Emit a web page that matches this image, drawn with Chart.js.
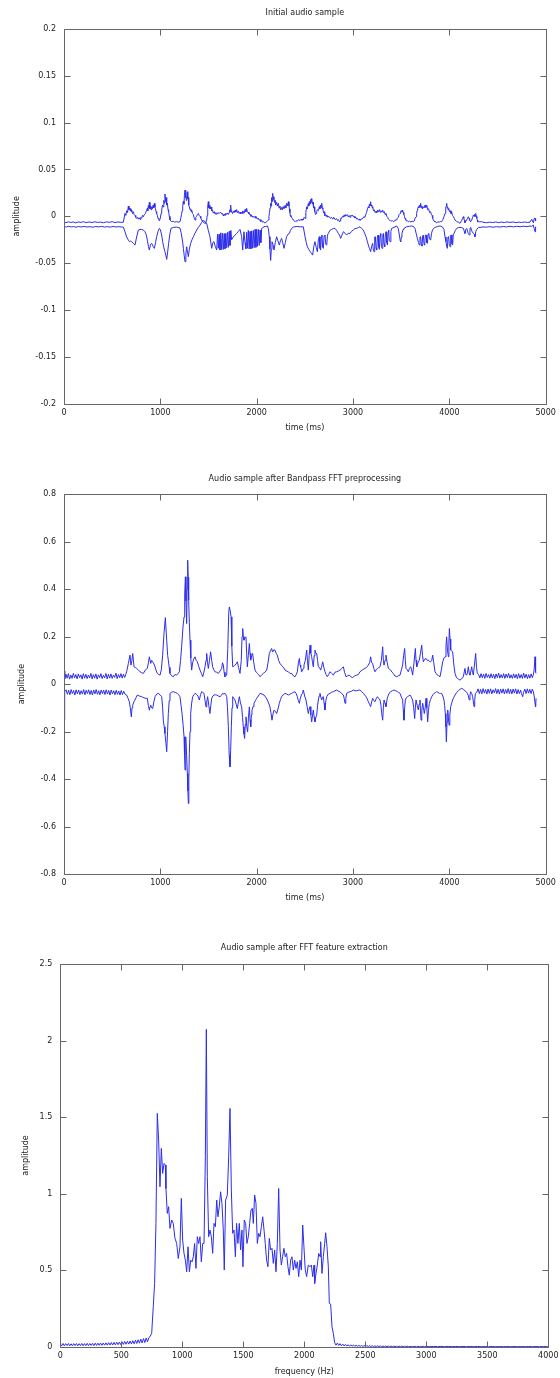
<!DOCTYPE html>
<html>
<head>
<meta charset="utf-8">
<script src="https://cdn.jsdelivr.net/npm/chart.js@4.4.1/dist/chart.umd.min.js"></script>
<style>
html,body{margin:0;padding:0;background:#fff;}
#wrap{position:relative;width:560px;height:1378px;}
canvas{position:absolute;left:0;}
</style>
</head>
<body>
<div id="wrap">
<canvas id="c1" width="560" height="460" style="top:0px"></canvas>
<canvas id="c2" width="560" height="470" style="top:460px"></canvas>
<canvas id="c3" width="560" height="448" style="top:930px"></canvas>
</div>
<script>
// ---------- DATA ----------
const titles = ["Initial audio sample", "Audio sample after Bandpass FFT preprocessing", "Audio sample after FFT feature extraction"];
const xTitles = ["time (ms)", "time (ms)", "frequency (Hz)"];
const yTitle = "amplitude";

const ticks1X = [0, 1000, 2000, 3000, 4000, 5000];
const ticks1Y = [-0.2, -0.15, -0.1, -0.05, 0, 0.05, 0.1, 0.15, 0.2];
const ticks2X = [0, 1000, 2000, 3000, 4000, 5000];
const ticks2Y = [-0.8, -0.6, -0.4, -0.2, 0, 0.2, 0.4, 0.6, 0.8];
const ticks3X = [0, 500, 1000, 1500, 2000, 2500, 3000, 3500, 4000];
const ticks3Y = [0, 0.5, 1, 1.5, 2, 2.5];

// chart 1: initial sample, upper and lower traces [time ms, amplitude]
const s1Upper = [[0,-0.006],[20,-0.0068],[45,-0.0058],[70,-0.0066],[95,-0.0059],[120,-0.0069],[150,-0.006],[175,-0.0065],[200,-0.0057],[230,-0.0067],[260,-0.006],[290,-0.0066],[320,-0.0058],[350,-0.0065],[380,-0.0061],[410,-0.0068],[440,-0.0059],[470,-0.0064],[500,-0.0057],[530,-0.0066],[560,-0.006],[590,-0.0064],[616,-0.0062],
[633,0.0031],[642,0.001],[650,0.006],[659,0.004],[668,0.011],[674,0.007],[680,0.009],[686,0.006],[692,0.0085],[697,0.005],[702,0.007],[711,0.003],[720,0.0049],[728,0.002],[737,0.001],[745,-0.001],[754,-0.0022],[763,-0.001],[772,-0.003],[780,-0.0015],[789,-0.0032],[797,-0.001],[806,-0.002],[815,0.001],[824,-0.0004],[834,0.002],[845,0.003],[855,0.006],[865,0.0085],[870,0.006],[875,0.0115],[881,0.009],[886,0.0149],[892,0.008],[898,0.011],[904,0.007],[910,0.0102],[917,0.008],[925,0.012],[931,0.009],[938,0.0138],[944,0.01],[950,0.008],[956,0.005],[962,0.0031],[969,0.001],[976,-0.002],[983,-0.003],[990,-0.0047],[1000,-0.002],[1007,0.003],[1014,0.0067],[1022,0.012],[1030,0.01],[1036,0.017],[1042,0.014],[1048,0.0238],[1054,0.016],[1060,0.02],[1066,0.012],[1073,0.0138],[1080,0.007],[1086,0.005],[1093,0.0],[1100,-0.0039],[1118,-0.0057],[1135,-0.0052],[1150,-0.0062],[1165,-0.0056],[1185,-0.0062],[1204,-0.0057],[1212,-0.002],[1220,0.002],[1226,0.006],[1232,0.0102],[1238,0.016],[1245,0.013],[1250,0.022],[1256,0.028],[1261,0.02],[1265,0.024],[1270,0.017],[1275,0.022],[1280,0.0262],[1285,0.019],[1290,0.02],[1295,0.012],[1301,0.0102],[1308,0.007],[1315,0.008],[1320,0.005],[1325,0.0067],[1334,0.003],[1343,0.002],[1352,-0.002],[1360,-0.0039],[1368,-0.001],[1377,0.0],[1385,0.002],[1394,0.0031],[1403,0.001],[1412,0.0],[1420,-0.002],[1429,-0.0039],[1437,-0.005],[1446,-0.006],[1455,-0.007],[1465,-0.0075],[1473,-0.006],[1481,-0.004],[1486,0.001],[1490,0.006],[1494,0.011],[1498,0.0156],[1503,0.009],[1507,0.011],[1511,0.008],[1515,0.012],[1520,0.008],[1526,0.01],[1533,0.006],[1540,0.007],[1550,0.0035],[1559,0.005],[1568,0.0025],[1576,0.004],[1585,0.0021],[1597,0.004],[1610,0.0029],[1624,0.0045],[1637,0.0025],[1645,0.003],[1654,0.0004],[1662,0.0025],[1671,0.001],[1680,0.0035],[1689,0.002],[1697,0.0035],[1706,0.002],[1713,0.004],[1720,0.007],[1725,0.005],[1730,0.012],[1735,0.006],[1740,0.0049],[1749,0.003],[1758,0.0055],[1766,0.004],[1775,0.0065],[1783,0.0045],[1792,0.0072],[1801,0.004],[1810,0.0055],[1818,0.003],[1827,0.0045],[1835,0.0028],[1844,0.0045],[1850,0.003],[1855,0.0058],[1861,0.0035],[1868,0.0055],[1874,0.004],[1880,0.0075],[1888,0.005],[1896,0.0085],[1903,0.005],[1910,0.0045],[1920,0.0025],[1931,0.002],[1940,0.0],[1950,0.001],[1958,-0.001],[1965,0.0],[1974,-0.0012],[1983,0.0],[1992,-0.002],[2000,-0.0012],[2008,-0.003],[2017,-0.002],[2026,-0.004],[2035,-0.0035],[2043,-0.0055],[2052,-0.0045],[2061,-0.0062],[2070,-0.0055],[2078,-0.0068],[2086,-0.0063],[2093,-0.0068],[2100,-0.0058],[2110,-0.005],[2121,-0.0039],[2127,0.0],[2133,0.004],[2139,0.009],[2145,0.0138],[2150,0.011],[2155,0.02],[2160,0.016],[2166,0.0245],[2172,0.018],[2178,0.021],[2184,0.015],[2190,0.0174],[2198,0.012],[2207,0.015],[2215,0.011],[2225,0.0138],[2232,0.009],[2240,0.011],[2250,0.007],[2259,0.0095],[2266,0.007],[2275,0.0105],[2284,0.008],[2294,0.0115],[2302,0.009],[2311,0.014],[2320,0.011],[2329,0.0156],[2335,0.011],[2340,0.008],[2345,0.004],[2350,0.0],[2356,0.001],[2363,-0.0015],[2371,-0.002],[2380,-0.004],[2389,-0.0045],[2398,-0.0057],[2409,-0.0045],[2420,-0.0055],[2435,-0.0035],[2450,-0.0045],[2462,-0.003],[2470,-0.0042],[2477,-0.0028],[2484,-0.0039],[2493,-0.001],[2502,-0.0022],[2510,0.004],[2519,0.0102],[2527,0.008],[2535,0.0135],[2541,0.011],[2547,0.0156],[2553,0.013],[2560,0.018],[2565,0.015],[2571,0.0191],[2578,0.013],[2585,0.015],[2590,0.009],[2595,0.0102],[2600,0.005],[2605,0.006],[2610,0.002],[2616,0.0031],[2623,0.005],[2630,0.007],[2640,0.006],[2650,0.0102],[2656,0.008],[2662,0.012],[2668,0.009],[2675,0.0138],[2681,0.009],[2687,0.008],[2693,0.004],[2699,0.0049],[2706,0.001],[2713,0.002],[2720,0.0],[2727,0.0014],[2738,-0.001],[2750,0.0],[2764,-0.002],[2778,-0.0012],[2789,-0.003],[2800,-0.001],[2815,-0.0035],[2830,-0.0025],[2840,-0.0045],[2850,-0.0035],[2858,-0.0057],[2865,-0.005],[2872,-0.002],[2880,-0.0025],[2890,0.0],[2900,-0.0008],[2908,0.0015],[2915,0.0],[2925,0.002],[2934,0.0008],[2942,0.0018],[2950,-0.0005],[2960,0.0008],[2969,-0.001],[2977,0.0012],[2985,0.0003],[2994,0.0015],[3003,-0.0005],[3012,0.0],[3020,-0.0018],[3029,-0.001],[3038,-0.0028],[3046,-0.0022],[3055,-0.0038],[3064,-0.003],[3072,-0.0042],[3086,-0.003],[3100,-0.0025],[3112,-0.0005],[3124,-0.001],[3132,0.002],[3140,0.004],[3150,0.008],[3159,0.0102],[3165,0.009],[3170,0.013],[3176,0.011],[3183,0.0156],[3189,0.011],[3195,0.012],[3200,0.009],[3204,0.0102],[3212,0.006],[3220,0.007],[3230,0.004],[3239,0.0055],[3247,0.004],[3255,0.0065],[3264,0.005],[3273,0.0072],[3281,0.0045],[3290,0.006],[3299,0.0045],[3308,0.0067],[3316,0.004],[3325,0.005],[3333,0.002],[3342,0.0031],[3351,0.0],[3360,-0.001],[3368,-0.003],[3377,-0.0039],[3388,-0.0045],[3398,-0.005],[3408,-0.0045],[3418,-0.0057],[3427,-0.0048],[3435,-0.005],[3444,-0.0035],[3453,-0.0039],[3461,-0.002],[3470,-0.001],[3479,0.002],[3488,0.0031],[3494,0.0045],[3500,0.006],[3507,0.0045],[3515,0.0067],[3521,0.004],[3528,0.002],[3534,0.0],[3540,-0.0022],[3547,-0.0035],[3555,-0.005],[3564,-0.0048],[3574,-0.0057],[3587,-0.0052],[3600,-0.006],[3613,-0.0052],[3626,-0.0057],[3633,-0.0045],[3640,-0.003],[3647,-0.0015],[3654,-0.0004],[3660,0.003],[3665,0.006],[3671,0.008],[3678,0.0102],[3684,0.009],[3690,0.012],[3696,0.01],[3702,0.0138],[3708,0.009],[3715,0.011],[3722,0.008],[3730,0.0102],[3739,0.009],[3748,0.012],[3756,0.0095],[3765,0.012],[3775,0.007],[3785,0.008],[3795,0.004],[3806,0.0049],[3813,0.002],[3820,0.001],[3827,-0.002],[3834,-0.0039],[3842,-0.005],[3850,-0.006],[3859,-0.0058],[3868,-0.0068],[3881,-0.0058],[3895,-0.0062],[3907,-0.0055],[3920,-0.0057],[3927,-0.0045],[3935,-0.003],[3945,0.0],[3955,0.0031],[3960,0.006],[3965,0.009],[3968,0.011],[3972,0.0138],[3977,0.009],[3982,0.01],[3987,0.007],[3993,0.0085],[4001,0.005],[4010,0.006],[4017,0.003],[4024,0.0049],[4032,0.001],[4040,0.0],[4050,-0.002],[4059,-0.0039],[4072,-0.0052],[4085,-0.006],[4097,-0.0062],[4110,-0.0075],[4120,-0.006],[4130,-0.004],[4138,-0.002],[4145,-0.0004],[4150,-0.002],[4155,-0.004],[4162,-0.0068],[4171,-0.005],[4180,-0.004],[4189,-0.002],[4197,-0.0004],[4204,-0.002],[4210,-0.004],[4221,-0.0057],[4228,-0.004],[4235,-0.003],[4242,-0.001],[4249,0.0014],[4256,0.0],[4262,0.002],[4268,0.0],[4273,0.0031],[4279,0.0],[4285,-0.002],[4290,-0.004],[4294,-0.0057],[4315,-0.0058],[4335,-0.0057],[4360,-0.0065],[4387,-0.0068],[4420,-0.0062],[4450,-0.0066],[4480,-0.006],[4510,-0.0067],[4540,-0.0061],[4570,-0.0066],[4600,-0.0059],[4630,-0.0065],[4660,-0.006],[4690,-0.0067],[4720,-0.0062],[4750,-0.0066],[4780,-0.006],[4810,-0.0065],[4837,-0.0062],[4855,-0.0032],[4872,-0.0068],[4882,-0.002],[4889,-0.0022],[4895,-0.005]];

const s1Lower = [[0,-0.0108],[25,-0.0114],[50,-0.0106],[75,-0.0113],[100,-0.0109],[125,-0.0116],[150,-0.0108],[180,-0.0113],[210,-0.0107],[240,-0.0114],[270,-0.011],[300,-0.0116],[330,-0.0108],[360,-0.0113],[390,-0.0107],[420,-0.0114],[450,-0.011],[480,-0.0115],[510,-0.0108],[540,-0.0113],[570,-0.011],[600,-0.0114],[616,-0.0115],
[633,-0.0164],[650,-0.022],[668,-0.0253],[680,-0.027],[692,-0.0263],[702,-0.027],[720,-0.0288],[737,-0.0306],[754,-0.022],[772,-0.0146],[789,-0.014],[806,-0.0139],[824,-0.0146],[841,-0.0164],[855,-0.02],[865,-0.0253],[876,-0.032],[886,-0.0359],[898,-0.03],[910,-0.0288],[925,-0.032],[938,-0.0341],[950,-0.028],[962,-0.0217],[976,-0.016],[990,-0.0128],[1000,-0.014],[1014,-0.02],[1024,-0.027],[1036,-0.033],[1048,-0.0377],[1058,-0.042],[1066,-0.0459],[1076,-0.038],[1086,-0.0288],[1100,-0.018],[1111,-0.0128],[1135,-0.0118],[1169,-0.0115],[1204,-0.0125],[1215,-0.017],[1232,-0.0275],[1239,-0.0341],[1248,-0.042],[1256,-0.0484],[1265,-0.04],[1273,-0.0324],[1282,-0.038],[1291,-0.043],[1301,-0.035],[1315,-0.0288],[1328,-0.025],[1343,-0.0217],[1360,-0.018],[1377,-0.0146],[1394,-0.012],[1412,-0.0093],[1429,-0.0065],[1446,-0.0039],[1465,-0.006],[1481,-0.0075],[1498,-0.015],[1515,-0.0217],[1533,-0.0341],[1545,-0.028],[1557,-0.027],[1570,-0.032],[1585,-0.0359],[1594,-0.019],[1602,-0.034],[1610,-0.019],[1619,-0.0359],[1628,-0.0175],[1637,-0.0355],[1646,-0.018],[1654,-0.0352],[1663,-0.0185],[1671,-0.0345],[1680,-0.018],[1689,-0.0335],[1698,-0.017],[1706,-0.033],[1715,-0.016],[1723,-0.031],[1732,-0.015],[1740,-0.025],[1758,-0.022],[1775,-0.02],[1792,-0.0182],[1810,-0.016],[1827,-0.0139],[1844,-0.0217],[1855,-0.0359],[1868,-0.0164],[1879,-0.028],[1888,-0.0345],[1896,-0.017],[1905,-0.034],[1913,-0.015],[1922,-0.0348],[1931,-0.016],[1940,-0.0345],[1948,-0.0155],[1957,-0.034],[1965,-0.015],[1974,-0.0335],[1983,-0.0139],[1992,-0.033],[2000,-0.0139],[2008,-0.032],[2017,-0.0139],[2026,-0.031],[2035,-0.0146],[2043,-0.028],[2052,-0.0128],[2064,-0.012],[2076,-0.0111],[2094,-0.0108],[2111,-0.0103],[2121,-0.013],[2131,-0.0217],[2138,-0.035],[2145,-0.047],[2152,-0.035],[2159,-0.027],[2170,-0.03],[2180,-0.0359],[2193,-0.028],[2207,-0.0217],[2220,-0.026],[2235,-0.0306],[2247,-0.026],[2259,-0.0235],[2270,-0.028],[2284,-0.0341],[2297,-0.028],[2311,-0.0217],[2325,-0.019],[2339,-0.0182],[2350,-0.015],[2363,-0.0128],[2380,-0.0115],[2398,-0.0111],[2420,-0.0108],[2450,-0.0112],[2470,-0.0111],[2484,-0.0111],[2502,-0.0217],[2515,-0.028],[2526,-0.0324],[2540,-0.035],[2554,-0.0377],[2568,-0.039],[2581,-0.0413],[2593,-0.032],[2605,-0.027],[2618,-0.033],[2630,-0.0377],[2640,-0.025],[2650,-0.0217],[2657,-0.034],[2664,-0.0359],[2671,-0.022],[2678,-0.0199],[2685,-0.033],[2692,-0.0341],[2700,-0.021],[2709,-0.0199],[2718,-0.03],[2727,-0.0306],[2735,-0.02],[2744,-0.0182],[2760,-0.015],[2778,-0.0139],[2795,-0.013],[2813,-0.0128],[2830,-0.015],[2848,-0.0182],[2860,-0.02],[2872,-0.0235],[2885,-0.02],[2900,-0.0164],[2917,-0.018],[2934,-0.0199],[2950,-0.018],[2969,-0.0182],[2985,-0.016],[3003,-0.0146],[3020,-0.013],[3038,-0.0128],[3055,-0.012],[3072,-0.0111],[3090,-0.013],[3107,-0.0146],[3120,-0.018],[3135,-0.0217],[3147,-0.026],[3159,-0.0306],[3170,-0.034],[3183,-0.0377],[3193,-0.032],[3204,-0.0288],[3211,-0.036],[3218,-0.0377],[3225,-0.022],[3232,-0.0217],[3239,-0.034],[3246,-0.0359],[3253,-0.022],[3260,-0.0199],[3267,-0.033],[3274,-0.0352],[3281,-0.021],[3288,-0.0182],[3295,-0.032],[3302,-0.0341],[3309,-0.02],[3315,-0.0182],[3322,-0.03],[3329,-0.0324],[3336,-0.019],[3343,-0.0164],[3350,-0.028],[3357,-0.0306],[3364,-0.018],[3370,-0.0146],[3377,-0.026],[3384,-0.027],[3393,-0.016],[3401,-0.0128],[3425,-0.0118],[3453,-0.0103],[3470,-0.013],[3481,-0.0199],[3490,-0.026],[3495,-0.027],[3502,-0.022],[3508,-0.0182],[3520,-0.014],[3529,-0.0128],[3557,-0.0111],[3585,-0.0106],[3609,-0.0103],[3630,-0.011],[3643,-0.0128],[3655,-0.018],[3668,-0.0235],[3680,-0.028],[3688,-0.0306],[3695,-0.022],[3702,-0.0217],[3709,-0.03],[3716,-0.0317],[3723,-0.021],[3730,-0.0199],[3737,-0.03],[3744,-0.0306],[3751,-0.02],[3758,-0.0199],[3765,-0.028],[3772,-0.0288],[3779,-0.019],[3786,-0.0182],[3795,-0.024],[3806,-0.0253],[3815,-0.018],[3827,-0.0139],[3851,-0.0118],[3880,-0.0106],[3903,-0.0103],[3925,-0.011],[3944,-0.0139],[3955,-0.022],[3965,-0.027],[3972,-0.032],[3979,-0.0341],[3986,-0.022],[3993,-0.0217],[4000,-0.031],[4007,-0.0324],[4014,-0.02],[4020,-0.0199],[4027,-0.029],[4034,-0.0306],[4041,-0.019],[4048,-0.0182],[4062,-0.015],[4076,-0.0128],[4093,-0.012],[4110,-0.0118],[4128,-0.012],[4145,-0.0128],[4155,-0.016],[4162,-0.0182],[4170,-0.014],[4180,-0.0128],[4195,-0.018],[4207,-0.0199],[4214,-0.013],[4221,-0.0118],[4235,-0.016],[4249,-0.0182],[4258,-0.019],[4266,-0.0217],[4275,-0.016],[4284,-0.0139],[4300,-0.012],[4318,-0.0118],[4350,-0.0113],[4387,-0.0115],[4420,-0.011],[4455,-0.0116],[4490,-0.011],[4526,-0.0114],[4560,-0.0108],[4595,-0.0113],[4630,-0.0106],[4665,-0.0112],[4699,-0.0106],[4735,-0.0111],[4770,-0.0105],[4805,-0.011],[4837,-0.0103],[4855,-0.0107],[4872,-0.0093],[4880,-0.013],[4889,-0.0164],[4895,-0.011]];

// chart 2: after bandpass FFT preprocessing [time ms, amplitude]
const s2Upper = [[0,0.055],[8,0.022],[20,0.042],[33,0.025],[46,0.044],[58,0.021],[71,0.038],[84,0.024],[97,0.045],[110,0.026],[123,0.04],[136,0.022],[149,0.043],[162,0.027],[175,0.039],[188,0.021],[201,0.044],[214,0.025],[227,0.041],[240,0.023],[253,0.038],[266,0.026],[279,0.045],[292,0.022],[305,0.04],[318,0.025],[331,0.043],[344,0.021],[357,0.039],[370,0.027],[383,0.044],[396,0.023],[409,0.037],[422,0.026],[435,0.045],[448,0.022],[461,0.041],[474,0.025],[487,0.043],[500,0.024],[513,0.038],[526,0.028],[539,0.046],[552,0.023],[565,0.04],[578,0.027],[591,0.044],[604,0.025],[617,0.042],[630,0.028],[640,0.04],[650,0.052],[668,0.087],[685,0.122],[695,0.08],[705,0.1],[713,0.129],[727,0.073],[740,0.07],[754,0.066],[770,0.06],[789,0.052],[806,0.048],[824,0.045],[845,0.06],[865,0.066],[876,0.09],[886,0.115],[900,0.087],[910,0.1],[920,0.094],[933,0.085],[945,0.073],[958,0.055],[969,0.045],[985,0.04],[997,0.038],[1010,0.06],[1024,0.122],[1038,0.213],[1052,0.28],[1066,0.185],[1076,0.12],[1083,0.101],[1092,0.07],[1100,0.045],[1117,0.035],[1135,0.031],[1150,0.04],[1169,0.038],[1185,0.045],[1197,0.052],[1210,0.1],[1221,0.157],[1235,0.24],[1246,0.283],[1253,0.38],[1260,0.452],[1266,0.35],[1273,0.255],[1278,0.4],[1284,0.522],[1289,0.45],[1294,0.354],[1301,0.26],[1308,0.185],[1316,0.11],[1325,0.059],[1335,0.09],[1343,0.101],[1352,0.11],[1360,0.115],[1372,0.1],[1384,0.094],[1398,0.075],[1412,0.059],[1426,0.045],[1440,0.031],[1452,0.05],[1464,0.073],[1474,0.1],[1481,0.129],[1490,0.09],[1498,0.066],[1510,0.1],[1522,0.136],[1533,0.1],[1543,0.073],[1555,0.06],[1567,0.052],[1585,0.05],[1602,0.045],[1620,0.055],[1637,0.066],[1645,0.09],[1654,0.08],[1662,0.05],[1671,0.031],[1680,0.035],[1689,0.038],[1700,0.15],[1710,0.3],[1716,0.325],[1725,0.31],[1734,0.283],[1742,0.16],[1751,0.073],[1763,0.075],[1775,0.08],[1787,0.085],[1799,0.094],[1812,0.07],[1827,0.045],[1840,0.1],[1848,0.2],[1855,0.234],[1861,0.2],[1868,0.185],[1878,0.195],[1889,0.199],[1896,0.13],[1903,0.073],[1913,0.12],[1924,0.171],[1931,0.13],[1938,0.101],[1948,0.12],[1958,0.129],[1970,0.09],[1983,0.059],[1995,0.05],[2007,0.045],[2020,0.04],[2035,0.031],[2050,0.038],[2069,0.045],[2085,0.05],[2104,0.059],[2118,0.09],[2131,0.129],[2143,0.14],[2155,0.15],[2165,0.135],[2178,0.145],[2190,0.143],[2202,0.13],[2214,0.122],[2228,0.1],[2242,0.087],[2256,0.08],[2270,0.073],[2282,0.068],[2294,0.059],[2310,0.055],[2329,0.052],[2345,0.045],[2363,0.045],[2380,0.035],[2398,0.031],[2410,0.04],[2422,0.052],[2433,0.09],[2443,0.108],[2450,0.08],[2457,0.073],[2467,0.052],[2484,0.066],[2491,0.08],[2505,0.1],[2519,0.143],[2527,0.1],[2536,0.059],[2545,0.12],[2554,0.164],[2562,0.13],[2571,0.115],[2580,0.09],[2588,0.073],[2597,0.12],[2605,0.143],[2614,0.13],[2623,0.129],[2632,0.1],[2640,0.073],[2652,0.07],[2664,0.059],[2675,0.075],[2685,0.094],[2697,0.07],[2709,0.052],[2721,0.04],[2733,0.031],[2747,0.04],[2761,0.052],[2778,0.045],[2796,0.038],[2813,0.05],[2830,0.052],[2848,0.055],[2865,0.059],[2882,0.065],[2900,0.073],[2912,0.05],[2927,0.031],[2945,0.035],[2962,0.038],[2980,0.03],[2996,0.028],[3015,0.034],[3038,0.038],[3055,0.04],[3072,0.052],[3098,0.06],[3124,0.066],[3140,0.07],[3159,0.08],[3172,0.09],[3183,0.115],[3193,0.09],[3204,0.087],[3216,0.065],[3228,0.052],[3240,0.06],[3253,0.066],[3267,0.07],[3280,0.073],[3294,0.1],[3308,0.157],[3315,0.1],[3322,0.08],[3332,0.1],[3342,0.122],[3355,0.09],[3367,0.066],[3380,0.062],[3391,0.059],[3405,0.05],[3418,0.045],[3435,0.034],[3453,0.031],[3470,0.035],[3488,0.038],[3502,0.06],[3515,0.08],[3525,0.12],[3536,0.15],[3543,0.1],[3550,0.066],[3562,0.06],[3574,0.052],[3586,0.066],[3598,0.073],[3608,0.06],[3619,0.038],[3633,0.09],[3647,0.15],[3654,0.1],[3661,0.073],[3675,0.09],[3688,0.101],[3700,0.13],[3713,0.164],[3722,0.12],[3730,0.094],[3744,0.105],[3758,0.108],[3770,0.1],[3782,0.101],[3794,0.095],[3806,0.094],[3817,0.1],[3827,0.122],[3838,0.09],[3851,0.052],[3863,0.045],[3875,0.038],[3889,0.035],[3903,0.031],[3917,0.06],[3931,0.094],[3944,0.11],[3955,0.115],[3965,0.16],[3972,0.199],[3981,0.14],[3990,0.115],[3995,0.17],[4000,0.234],[4007,0.19],[4014,0.143],[4024,0.14],[4034,0.136],[4047,0.08],[4059,0.045],[4071,0.03],[4083,0.024],[4097,0.02],[4110,0.017],[4128,0.022],[4145,0.031],[4162,0.066],[4171,0.04],[4180,0.038],[4189,0.05],[4197,0.073],[4206,0.045],[4214,0.038],[4223,0.055],[4232,0.073],[4240,0.05],[4249,0.038],[4260,0.08],[4273,0.129],[4282,0.07],[4290,0.045],[4304,0.04],[4316,0.026],[4329,0.044],[4342,0.027],[4355,0.042],[4368,0.024],[4381,0.045],[4394,0.028],[4407,0.04],[4420,0.025],[4433,0.044],[4446,0.026],[4459,0.041],[4472,0.023],[4485,0.043],[4498,0.027],[4511,0.046],[4524,0.025],[4537,0.04],[4550,0.026],[4563,0.044],[4576,0.024],[4589,0.042],[4602,0.027],[4615,0.045],[4628,0.025],[4641,0.039],[4654,0.024],[4667,0.043],[4680,0.026],[4693,0.041],[4706,0.023],[4719,0.044],[4732,0.025],[4745,0.04],[4758,0.024],[4771,0.046],[4784,0.026],[4797,0.042],[4810,0.023],[4823,0.04],[4836,0.025],[4849,0.043],[4862,0.027],[4872,0.04],[4880,0.06],[4889,0.115],[4895,0.05],[4900,0.045]];

const s2Lower = [[0,-0.15],[4,-0.06],[10,-0.032],[22,-0.024],[35,-0.043],[48,-0.026],[61,-0.045],[74,-0.023],[87,-0.04],[100,-0.027],[113,-0.046],[126,-0.024],[139,-0.041],[152,-0.025],[165,-0.044],[178,-0.028],[191,-0.042],[204,-0.023],[217,-0.045],[230,-0.026],[243,-0.04],[256,-0.024],[269,-0.044],[282,-0.027],[295,-0.046],[308,-0.025],[321,-0.041],[334,-0.023],[347,-0.043],[360,-0.028],[373,-0.045],[386,-0.025],[399,-0.04],[412,-0.026],[425,-0.044],[438,-0.024],[451,-0.042],[464,-0.027],[477,-0.046],[490,-0.025],[503,-0.041],[516,-0.028],[529,-0.045],[542,-0.026],[555,-0.043],[568,-0.029],[581,-0.046],[594,-0.027],[607,-0.044],[620,-0.03],[633,-0.042],[650,-0.046],[665,-0.06],[678,-0.074],[688,-0.1],[699,-0.138],[706,-0.1],[713,-0.089],[725,-0.075],[737,-0.067],[750,-0.055],[761,-0.046],[780,-0.05],[806,-0.053],[830,-0.058],[850,-0.06],[865,-0.06],[876,-0.09],[886,-0.11],[893,-0.095],[900,-0.089],[910,-0.1],[920,-0.103],[933,-0.075],[945,-0.053],[962,-0.042],[979,-0.039],[997,-0.045],[1014,-0.053],[1024,-0.1],[1031,-0.152],[1040,-0.18],[1048,-0.208],[1058,-0.25],[1066,-0.285],[1075,-0.2],[1083,-0.124],[1092,-0.07],[1100,-0.039],[1118,-0.034],[1135,-0.032],[1155,-0.035],[1176,-0.039],[1190,-0.045],[1204,-0.053],[1215,-0.09],[1225,-0.124],[1236,-0.17],[1246,-0.222],[1251,-0.3],[1256,-0.362],[1261,-0.3],[1266,-0.222],[1273,-0.3],[1280,-0.376],[1286,-0.45],[1291,-0.503],[1296,-0.4],[1301,-0.292],[1308,-0.2],[1315,-0.124],[1325,-0.08],[1336,-0.053],[1348,-0.045],[1360,-0.039],[1372,-0.042],[1384,-0.046],[1395,-0.055],[1405,-0.067],[1417,-0.045],[1429,-0.032],[1440,-0.035],[1453,-0.039],[1464,-0.07],[1474,-0.096],[1482,-0.075],[1491,-0.053],[1503,-0.09],[1515,-0.124],[1524,-0.09],[1533,-0.06],[1545,-0.05],[1557,-0.046],[1571,-0.045],[1585,-0.046],[1602,-0.05],[1619,-0.053],[1633,-0.048],[1647,-0.039],[1660,-0.042],[1671,-0.039],[1680,-0.045],[1689,-0.053],[1697,-0.1],[1706,-0.18],[1715,-0.3],[1723,-0.348],[1730,-0.28],[1737,-0.18],[1744,-0.1],[1751,-0.053],[1763,-0.06],[1775,-0.067],[1787,-0.085],[1799,-0.103],[1810,-0.075],[1820,-0.053],[1832,-0.08],[1844,-0.096],[1853,-0.14],[1861,-0.18],[1868,-0.21],[1875,-0.229],[1882,-0.17],[1889,-0.138],[1897,-0.18],[1906,-0.201],[1915,-0.14],[1924,-0.096],[1931,-0.15],[1938,-0.18],[1945,-0.13],[1951,-0.11],[1962,-0.095],[1972,-0.081],[1986,-0.07],[2000,-0.06],[2017,-0.05],[2035,-0.039],[2055,-0.042],[2076,-0.046],[2093,-0.055],[2111,-0.067],[2124,-0.08],[2138,-0.096],[2148,-0.12],[2159,-0.152],[2170,-0.125],[2180,-0.11],[2194,-0.115],[2207,-0.124],[2221,-0.105],[2235,-0.081],[2247,-0.065],[2259,-0.053],[2276,-0.045],[2294,-0.039],[2311,-0.042],[2329,-0.046],[2346,-0.042],[2363,-0.039],[2380,-0.035],[2398,-0.032],[2410,-0.04],[2422,-0.053],[2433,-0.07],[2443,-0.081],[2453,-0.06],[2464,-0.046],[2475,-0.04],[2484,-0.025],[2498,-0.05],[2512,-0.067],[2524,-0.095],[2536,-0.124],[2545,-0.105],[2554,-0.095],[2562,-0.13],[2571,-0.159],[2580,-0.13],[2588,-0.109],[2597,-0.14],[2605,-0.159],[2614,-0.14],[2623,-0.131],[2632,-0.09],[2640,-0.067],[2648,-0.05],[2657,-0.039],[2666,-0.055],[2675,-0.067],[2684,-0.055],[2692,-0.053],[2700,-0.08],[2709,-0.109],[2718,-0.07],[2727,-0.053],[2744,-0.042],[2761,-0.039],[2778,-0.034],[2796,-0.032],[2813,-0.028],[2830,-0.025],[2848,-0.03],[2865,-0.032],[2882,-0.04],[2900,-0.046],[2908,-0.06],[2917,-0.081],[2925,-0.06],[2934,-0.039],[2950,-0.035],[2969,-0.032],[2985,-0.03],[3003,-0.025],[3020,-0.028],[3038,-0.028],[3055,-0.026],[3072,-0.025],[3090,-0.032],[3107,-0.039],[3121,-0.046],[3135,-0.053],[3147,-0.062],[3159,-0.074],[3171,-0.085],[3183,-0.095],[3193,-0.075],[3204,-0.06],[3216,-0.07],[3228,-0.074],[3240,-0.062],[3253,-0.053],[3266,-0.06],[3280,-0.067],[3290,-0.09],[3298,-0.124],[3308,-0.152],[3315,-0.1],[3322,-0.067],[3332,-0.08],[3342,-0.095],[3355,-0.06],[3367,-0.046],[3380,-0.035],[3391,-0.032],[3408,-0.028],[3425,-0.025],[3443,-0.028],[3460,-0.032],[3474,-0.035],[3488,-0.039],[3502,-0.055],[3515,-0.067],[3522,-0.11],[3529,-0.152],[3536,-0.1],[3543,-0.067],[3553,-0.058],[3564,-0.053],[3578,-0.05],[3592,-0.046],[3605,-0.055],[3619,-0.067],[3630,-0.1],[3640,-0.145],[3647,-0.1],[3654,-0.067],[3666,-0.09],[3678,-0.109],[3686,-0.085],[3695,-0.067],[3700,-0.11],[3706,-0.152],[3714,-0.11],[3723,-0.081],[3731,-0.1],[3740,-0.124],[3749,-0.1],[3758,-0.06],[3766,-0.1],[3775,-0.159],[3783,-0.11],[3792,-0.081],[3805,-0.065],[3817,-0.053],[3829,-0.045],[3841,-0.039],[3855,-0.036],[3868,-0.032],[3882,-0.035],[3896,-0.039],[3908,-0.039],[3920,-0.039],[3932,-0.05],[3944,-0.067],[3951,-0.09],[3958,-0.124],[3964,-0.18],[3969,-0.243],[3976,-0.16],[3983,-0.109],[3990,-0.14],[3997,-0.173],[4005,-0.13],[4014,-0.095],[4024,-0.08],[4034,-0.067],[4047,-0.055],[4059,-0.046],[4076,-0.035],[4093,-0.028],[4110,-0.022],[4128,-0.018],[4145,-0.022],[4162,-0.028],[4175,-0.032],[4187,-0.039],[4197,-0.05],[4207,-0.067],[4214,-0.045],[4221,-0.032],[4232,-0.04],[4242,-0.053],[4249,-0.075],[4256,-0.095],[4263,-0.07],[4270,-0.039],[4285,-0.034],[4298,-0.02],[4311,-0.04],[4324,-0.022],[4337,-0.041],[4350,-0.019],[4363,-0.038],[4376,-0.023],[4389,-0.042],[4402,-0.021],[4415,-0.039],[4428,-0.02],[4441,-0.041],[4454,-0.024],[4467,-0.037],[4480,-0.019],[4493,-0.04],[4506,-0.022],[4519,-0.042],[4532,-0.021],[4545,-0.038],[4558,-0.02],[4571,-0.041],[4584,-0.023],[4597,-0.039],[4610,-0.019],[4623,-0.04],[4636,-0.022],[4649,-0.041],[4662,-0.021],[4675,-0.038],[4688,-0.02],[4701,-0.042],[4714,-0.023],[4727,-0.04],[4740,-0.025],[4748,-0.04],[4761,-0.053],[4770,-0.035],[4783,-0.021],[4796,-0.04],[4809,-0.02],[4822,-0.038],[4835,-0.022],[4848,-0.04],[4861,-0.021],[4872,-0.032],[4880,-0.05],[4889,-0.081],[4895,-0.095],[4900,-0.06]];

// chart 3: FFT feature spectrum [frequency Hz, amplitude]
const s3Spectrum = [[0,0.02],[11,0.007],[22,0.023],[33,0.008],[44,0.022],[55,0.009],[66,0.023],[77,0.008],[88,0.021],[99,0.007],[110,0.022],[121,0.009],[132,0.023],[143,0.008],[154,0.022],[165,0.009],[176,0.023],[187,0.008],[198,0.022],[209,0.009],[220,0.024],[231,0.009],[242,0.023],[253,0.01],[264,0.024],[275,0.009],[286,0.025],[297,0.01],[308,0.025],[319,0.011],[330,0.026],[341,0.011],[352,0.026],[363,0.012],[374,0.027],[385,0.012],[396,0.028],[407,0.013],[418,0.029],[429,0.013],[440,0.03],[451,0.014],[462,0.031],[473,0.015],[484,0.032],[495,0.016],[506,0.034],[517,0.017],[528,0.036],[539,0.018],[550,0.037],[561,0.019],[572,0.039],[583,0.02],[594,0.041],[605,0.021],[616,0.044],[627,0.023],[638,0.047],[649,0.025],[660,0.051],[671,0.027],[682,0.055],[693,0.029],[704,0.059],[715,0.034],[726,0.061],[735,0.067],
[749,0.089],[762,0.263],[773,0.415],[784,0.807],[795,1.525],[806,1.351],[817,1.046],[828,1.296],[839,1.133],[850,1.198],[861,1.188],[866,1.035],[877,0.872],[888,0.916],[899,0.774],[913,0.829],[926,0.807],[940,0.709],[954,0.676],[967,0.578],[981,0.654],[992,0.97],[1003,0.698],[1014,0.611],[1025,0.567],[1036,0.491],[1047,0.654],[1058,0.491],[1069,0.567],[1080,0.556],[1090,0.589],[1101,0.676],[1112,0.513],[1123,0.72],[1134,0.676],[1145,0.72],[1156,0.556],[1167,0.676],[1178,0.676],[1189,1.242],[1197,2.073],[1205,1.111],[1216,0.72],[1227,0.763],[1238,0.72],[1249,0.611],[1260,0.807],[1271,0.785],[1282,0.959],[1292,0.85],[1303,0.916],[1314,1.013],[1325,0.937],[1336,0.763],[1344,0.502],[1355,0.959],[1369,0.992],[1380,1.242],[1391,1.557],[1402,1.024],[1413,0.742],[1424,0.763],[1435,0.589],[1445,0.807],[1456,0.676],[1467,0.807],[1478,0.633],[1489,0.763],[1497,0.524],[1508,0.829],[1519,0.807],[1530,0.676],[1541,0.72],[1552,0.807],[1563,0.894],[1574,0.905],[1582,0.807],[1593,0.992],[1604,0.937],[1615,0.676],[1626,0.742],[1637,0.72],[1648,0.785],[1659,0.85],[1670,0.763],[1680,0.676],[1691,0.567],[1702,0.524],[1713,0.709],[1724,0.633],[1735,0.644],[1746,0.546],[1757,0.633],[1768,0.491],[1779,0.676],[1790,1.035],[1801,0.633],[1812,0.535],[1822,0.589],[1833,0.644],[1844,0.589],[1855,0.611],[1866,0.524],[1877,0.469],[1888,0.567],[1899,0.589],[1910,0.502],[1921,0.567],[1932,0.513],[1943,0.556],[1954,0.459],[1965,0.567],[1976,0.502],[1987,0.796],[1997,0.654],[2008,0.502],[2019,0.459],[2033,0.535],[2047,0.524],[2058,0.535],[2069,0.459],[2080,0.535],[2085,0.415],[2096,0.48],[2107,0.535],[2118,0.611],[2129,0.589],[2134,0.687],[2145,0.48],[2156,0.589],[2167,0.676],[2175,0.746],[2186,0.655],[2197,0.524],[2205,0.285],[2216,0.28],[2227,0.132],[2238,0.089],[2249,0.028],
[2260,0.012],[2271,0.026],[2282,0.01],[2293,0.022],[2304,0.008],[2315,0.019],[2326,0.007],[2337,0.017],[2348,0.006],[2359,0.015],[2370,0.005],[2381,0.014],[2392,0.005],[2403,0.013],[2414,0.004],[2425,0.012],[2436,0.004],[2447,0.011],[2458,0.004],[2469,0.01],[2480,0.004],[2491,0.009],[2502,0.003],[2513,0.009],[2524,0.003],[2535,0.008],[2546,0.003],[2557,0.008],[2568,0.003],[2579,0.007],[2590,0.003],[2601,0.007],[2612,0.003],[2623,0.007],[2634,0.002],[2645,0.006],[2656,0.002],[2667,0.006],[2678,0.002],[2689,0.006],[2700,0.002],[2711,0.006],[2722,0.002],[2733,0.005],[2744,0.002],[2755,0.005],[2766,0.002],[2777,0.005],[2788,0.002],[2799,0.005],[2810,0.002],[2821,0.005],[2832,0.002],[2843,0.005],[2854,0.002],[2865,0.004],[2876,0.002],[2887,0.004],[2898,0.002],[2909,0.004],[2920,0.002],[2931,0.004],[2942,0.002],[2953,0.004],[2964,0.002],[2975,0.004],[2986,0.002],[2997,0.004],[3030,0.002],[3060,0.004],[3090,0.002],[3120,0.004],[3150,0.002],[3180,0.004],[3210,0.002],[3240,0.0035],[3270,0.002],[3300,0.0035],[3330,0.002],[3360,0.0035],[3390,0.002],[3420,0.0035],[3450,0.002],[3480,0.003],[3510,0.002],[3540,0.003],[3570,0.002],[3600,0.003],[3630,0.002],[3660,0.003],[3690,0.002],[3720,0.003],[3750,0.002],[3780,0.003],[3810,0.002],[3840,0.003],[3870,0.002],[3900,0.003],[3930,0.002],[3960,0.003],[3990,0.002],[4000,0.002]];

// ---------- RENDERING ----------
const FONT = {family: "'DejaVu Sans', sans-serif", size: 8, weight: 'normal', lineHeight: 1.2};
const TEXT = '#222';
const LINE = 'rgb(45,45,235)';

const framePlugin = {
  id: 'gpframe',
  afterDatasetsDraw(chart) {
    const {ctx, chartArea: a, scales: {x, y}} = chart;
    const L = 6;
    const l = Math.round(a.left) + 0.5, r = Math.round(a.right) + 0.5;
    const t = Math.round(a.top) + 0.5, b = Math.round(a.bottom) + 0.5;
    ctx.save();
    ctx.strokeStyle = '#666';
    ctx.lineWidth = 1;
    ctx.beginPath();
    ctx.rect(l, t, r - l, b - t);
    x.ticks.forEach(tk => {
      const px = Math.round(x.getPixelForValue(tk.value)) + 0.5;
      ctx.moveTo(px, b); ctx.lineTo(px, b - L);
      ctx.moveTo(px, t); ctx.lineTo(px, t + L);
    });
    y.ticks.forEach(tk => {
      const py = Math.round(y.getPixelForValue(tk.value)) + 0.5;
      ctx.moveTo(l, py); ctx.lineTo(l + L, py);
      ctx.moveTo(r, py); ctx.lineTo(r - L, py);
    });
    ctx.stroke();
    ctx.restore();
  }
};

function fmt(v) {
  const r = Math.round(v * 1000) / 1000;
  return r === 0 ? '0' : String(r);
}

function makeChart(id, cfg) {
  const lh = FONT.size * FONT.lineHeight;
  const H = cfg.H;
  new Chart(document.getElementById(id), {
    type: 'line',
    data: {
      datasets: cfg.series.map(s => ({
        data: s.map(p => ({x: p[0], y: p[1]})),
        borderColor: LINE,
        borderWidth: 1,
        pointRadius: 0,
        tension: 0,
        fill: false
      }))
    },
    plugins: [framePlugin],
    options: {
      responsive: false,
      animation: false,
      devicePixelRatio: 1,
      events: [],
      layout: {padding: {left: 0, right: 560 - cfg.right, top: 0, bottom: 0}},
      plugins: {
        legend: {display: false},
        tooltip: {enabled: false},
        title: {
          display: true,
          text: cfg.title,
          color: TEXT,
          font: FONT,
          fullSize: false,
          padding: {top: cfg.titleY - lh / 2, bottom: cfg.top - (cfg.titleY - lh / 2) - lh}
        }
      },
      scales: {
        x: {
          type: 'linear',
          min: cfg.xTicks[0],
          max: cfg.xTicks[cfg.xTicks.length - 1],
          afterBuildTicks: s => { s.ticks = cfg.xTicks.map(v => ({value: v})); },
          afterFit: s => { s.height = H - cfg.bottom; s.paddingLeft = 0; s.paddingRight = 0; },
          grid: {display: false, drawTicks: false},
          border: {display: false},
          ticks: {color: TEXT, font: FONT, padding: 4.5, maxRotation: 0, autoSkip: false, callback: v => fmt(v)},
          title: {display: true, text: cfg.xTitle, color: TEXT, font: FONT, padding: {top: 0, bottom: H - cfg.xTitleY - lh / 2}}
        },
        y: {
          type: 'linear',
          min: cfg.yTicks[0],
          max: cfg.yTicks[cfg.yTicks.length - 1],
          afterBuildTicks: s => { s.ticks = cfg.yTicks.map(v => ({value: v})); },
          afterFit: s => { s.width = cfg.left; s.paddingTop = 0; s.paddingBottom = 0; },
          grid: {display: false, drawTicks: false},
          border: {display: false},
          ticks: {color: TEXT, font: FONT, padding: 8, autoSkip: false, callback: v => fmt(v)},
          title: {display: true, text: yTitle, color: TEXT, font: FONT, padding: {top: cfg.yTitleX - lh / 2, bottom: 0}}
        }
      }
    }
  });
}

makeChart('c1', {H: 460, left: 64, right: 545.7, top: 28.7, bottom: 404, titleY: 12.7, xTitleY: 427.5, yTitleX: 17,
  title: titles[0], xTitle: xTitles[0], xTicks: ticks1X, yTicks: ticks1Y, series: [s1Upper, s1Lower]});
makeChart('c2', {H: 470, left: 64, right: 545.7, top: 34.2, bottom: 414, titleY: 18.5, xTitleY: 438, yTitleX: 22,
  title: titles[1], xTitle: xTitles[1], xTicks: ticks2X, yTicks: ticks2Y, series: [s2Upper, s2Lower]});
makeChart('c3', {H: 448, left: 60.3, right: 548.3, top: 34, bottom: 417, titleY: 18, xTitleY: 441.7, yTitleX: 26,
  title: titles[2], xTitle: xTitles[2], xTicks: ticks3X, yTicks: ticks3Y, series: [s3Spectrum]});
</script>
</body>
</html>
